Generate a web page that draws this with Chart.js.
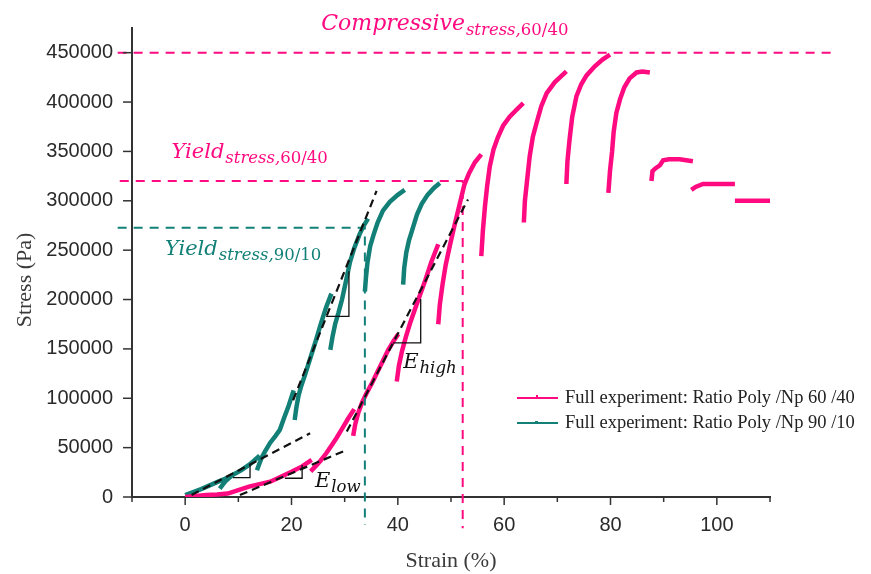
<!DOCTYPE html>
<html>
<head>
<meta charset="utf-8">
<script src="https://cdn.jsdelivr.net/npm/chart.js@4.4.0/dist/chart.umd.min.js"></script>
<style>
  body { margin: 0; background: #fff; }
  canvas { display: block; }
</style>
</head>
<body>
<canvas id="stressChart" width="871" height="574"></canvas>
<script>
// cyclic compression curves, [strain %, stress Pa], one array per loading cycle
const pink1 = [[0,0],[2,1000],[4,2000],[6,2500],[8,3500],[10,7000],[12,10500],[14,13000],[16,15500],[18,20500],[20,25500],[22,31000],[23.8,37500]];
const pink2 = [[23.6,26000],[24.5,31000],[25.5,37000],[26.5,44000],[27.5,52000],[28.5,60000],[29.5,69000],[30.6,79000],[31.8,89000]];
const pink3 = [[31.6,62000],[32,74000],[32.6,86000],[33.3,96000],[34.2,106000],[35.2,116000],[36.2,127000],[37.2,138000],[38.2,149000],[39.2,158000],[40.1,165000]];
const pink4 = [[39.8,117000],[40.2,133000],[40.8,148000],[41.5,162000],[42.3,176000],[43.2,190000],[44.2,205000],[45.2,220000],[46.3,238000],[47.6,256000]];
const pink5 = [[47.6,175000],[47.9,195000],[48.4,215000],[49,235000],[49.8,255000],[50.7,276000],[51.6,296000],[52.5,316000],[53.4,328000],[54.5,339000],[55.7,347000]];
const pink6 = [[55.7,244000],[56,270000],[56.4,295000],[56.8,315000],[57.3,335000],[58,352000],[58.8,364000],[59.8,376000],[61,385000],[62.3,392000],[63.6,399000]];
const pink7 = [[63.7,278000],[63.9,300000],[64.3,320000],[64.8,345000],[65.4,365000],[66.1,379000],[67,396000],[68,409000],[69.5,420000],[71.7,431000]];
const pink8 = [[71.7,317000],[71.9,340000],[72.3,362000],[72.8,385000],[73.6,406000],[74.5,418000],[75.5,427000],[77,436000],[78.5,443000],[79.9,448000]];
const pink9 = [[79.6,308000],[79.9,330000],[80.3,350000],[80.6,370000],[81.1,389000],[81.8,403000],[82.6,415000],[83.6,424000],[84.9,430000],[86,431000],[87.4,430000]];
const pink10 = [[87.7,320000],[87.9,330000],[88.5,333000],[89.3,336000],[89.9,341000],[91,342000],[93,342000],[95.5,340000]];
const pink11 = [[95.2,311000],[96,314000],[97.4,317000],[100,317000],[103.4,317000]];
const pink12 = [[103.4,300000],[110,300000]];

const teal1 = [[0,2000],[1.5,5000],[3,8000],[4.5,11500],[6,15000],[7.5,18500],[9,22500],[10.5,27000],[12,32500],[13,37000],[14,42000]];
const teal2 = [[6.5,8500],[7,12000],[7.6,16000],[8.3,19500],[9,22500]];
const teal3 = [[13.5,27000],[13.9,33000],[14.4,40000],[15,46000],[16,55000],[17,62000],[17.8,68000],[18.6,80000],[19.5,93000],[20.4,108000]];
const teal4 = [[20.6,78000],[20.9,90000],[21.3,102000],[21.8,112000],[22.5,123000],[23.5,140000],[24.5,157000],[25.5,175000],[26.5,192000],[27.5,206000]];
const teal5 = [[27.3,149000],[27.7,162000],[28.2,175000],[28.8,186000],[29.5,200000],[30.3,220000],[31,238000],[31.8,252000],[32.8,266000],[33.6,275000],[34.4,282000]];
const teal6 = [[33.8,208000],[34,222000],[34.3,238000],[34.8,254000],[35.4,265000],[36.2,278000],[37.2,290000],[38.5,299000],[40,306000],[41.3,311000]];
const teal7 = [[41,215000],[41.2,232000],[41.6,248000],[42.1,260000],[42.8,272000],[43.6,286000],[44.5,297000],[45.6,306000],[46.8,313000],[47.9,318000]];

// reference lines (dashed) and slope triangles
const compressiveLine = [[-12.7,450000],[122.5,450000]];
const yield6040Line = [[-12.3,320000],[52.2,320000],[52.2,-31700]];
const yield9010Line = [[-12.7,272700],[33.8,272700],[33.8,-28400]];
const tealLowFit = [[1.2,2000],[23.5,64600]];
const tealHighFit = [[20.3,98000],[36,310000]];
const pinkLowFit = [[10.3,2000],[30.4,47700]];
const pinkHighFit = [[30.4,66300],[53.2,301400]];
const tealLowTri = [[9.0,19600],[12.2,19600],[12.2,32500]];
const pinkLowTri = [[18.75,19000],[22.0,19000],[22.0,32500]];
const tealHighTri = [[26.5,183000],[30.8,183000],[30.8,228600]];
const pinkHighTri = [[39.1,156000],[44.3,156000],[44.3,200600]];

const xTicks = [0, 20, 40, 60, 80, 100];
const yTicks = [0, 50000, 100000, 150000, 200000, 250000, 300000, 350000, 400000, 450000];

const seriesLabels = ['Full experiment: Ratio Poly /Np 60 /40', 'Full experiment: Ratio Poly /Np 90 /10'];

const PINK = '#ff0a80';
const TEAL = '#138078';

function toPoints(list) {
    return list.map(p => ({ x: p[0], y: p[1] }));
}

// join cycles with a null point so the line breaks between them
function joinCycles(cycles) {
    let out = [];
    cycles.forEach((c, i) => {
        if (i > 0) out.push({ x: c[0][0], y: null });
        out = out.concat(toPoints(c));
    });
    return out;
}

function refLine(data, color, width, dash, order) {
    return {
        data: toPoints(data),
        borderColor: color,
        borderWidth: width,
        borderDash: dash,
        pointRadius: 0,
        showLine: true,
        clip: false,
        order: order
    };
}

// text labels placed in data coordinates
const labels = [
    { x: 25.6, y: 473000, main: 'Compressive', sub: 'stress,', num: '60/40', color: PINK, size: 22 },
    { x: -2.56, y: 343000, main: 'Yield', sub: 'stress,', num: '60/40', color: PINK, size: 21 },
    { x: -3.8, y: 245100, main: 'Yield', sub: 'stress,', num: '90/10', color: TEAL, size: 21 },
    { x: 41.0, y: 130300, main: 'E', sub: 'high', num: '', color: '#111', size: 21 },
    { x: 24.4, y: 10400, main: 'E', sub: 'low', num: '', color: '#111', size: 21 }
];

const decorPlugin = {
    id: 'decor',
    afterDraw(chart) {
        const ctx = chart.ctx;
        const xs = chart.scales.x, ys = chart.scales.y;
        const area = chart.chartArea;
        ctx.save();

        // tick marks, longer on labelled ticks
        ctx.strokeStyle = '#333';
        ctx.lineWidth = 1.5;
        xs.ticks.forEach(t => {
            const px = xs.getPixelForValue(t.value);
            const len = xTicks.includes(t.value) ? 8 : 5;
            ctx.beginPath();
            ctx.moveTo(px, area.bottom);
            ctx.lineTo(px, area.bottom + len);
            ctx.stroke();
        });
        ys.ticks.forEach(t => {
            const py = ys.getPixelForValue(t.value);
            const len = yTicks.includes(t.value) ? 9 : 6;
            ctx.beginPath();
            ctx.moveTo(area.left, py);
            ctx.lineTo(area.left - len, py);
            ctx.stroke();
        });

        // y axis title, sits a little below the axis middle in the original
        ctx.save();
        ctx.translate(25, 280);
        ctx.rotate(-Math.PI / 2);
        ctx.fillStyle = '#3a3a3a';
        ctx.font = '22px "Liberation Serif"';
        ctx.textAlign = 'center';
        ctx.textBaseline = 'middle';
        ctx.fillText('Stress (Pa)', 0, 0);
        ctx.restore();

        // math style labels
        ctx.textBaseline = 'alphabetic';
        ctx.textAlign = 'left';
        labels.forEach(l => {
            let px = xs.getPixelForValue(l.x);
            const py = ys.getPixelForValue(l.y);
            ctx.fillStyle = l.color;
            ctx.font = 'italic ' + l.size + 'px "DejaVu Serif"';
            ctx.fillText(l.main, px, py);
            px += ctx.measureText(l.main).width + 1;
            ctx.font = 'italic 16.5px "DejaVu Serif"';
            ctx.fillText(l.sub, px, py + 5);
            px += ctx.measureText(l.sub).width;
            if (l.num) {
                ctx.font = '16.5px "DejaVu Serif"';
                ctx.fillText(l.num, px, py + 5);
            }
        });

        // legend
        const rows = [{ color: PINK, y: 398 }, { color: TEAL, y: 423 }];
        rows.forEach((r, i) => {
            ctx.strokeStyle = r.color;
            ctx.lineWidth = 2;
            ctx.beginPath();
            ctx.moveTo(517, r.y);
            ctx.lineTo(558, r.y);
            ctx.stroke();
            ctx.fillStyle = r.color;
            if (i === 0) ctx.fillRect(536, r.y - 3, 2, 4);
            else ctx.fillRect(535, r.y - 2, 3, 3);
            ctx.fillStyle = '#222';
            ctx.font = '18.5px "Liberation Serif"';
            ctx.textBaseline = 'middle';
            ctx.fillText(seriesLabels[i], 565, r.y);
        });
        ctx.restore();
    }
};

const ctx = document.getElementById('stressChart').getContext('2d');
const chart = new Chart(ctx, {
    type: 'scatter',
    data: {
        datasets: [
            refLine(tealLowFit, '#111', 2.2, [8, 5], 0),
            refLine(tealHighFit, '#111', 2.2, [8, 5], 0),
            refLine(pinkLowFit, '#111', 2.2, [8, 5], 0),
            refLine(pinkHighFit, '#111', 2.2, [8, 5], 0),
            refLine(tealLowTri, '#111', 1.3, [], 0),
            refLine(pinkLowTri, '#111', 1.3, [], 0),
            refLine(tealHighTri, '#111', 1.3, [], 0),
            refLine(pinkHighTri, '#111', 1.3, [], 0),
            refLine(compressiveLine, PINK, 2, [9, 7], 1),
            refLine(yield6040Line, PINK, 2, [9, 7], 1),
            refLine(yield9010Line, TEAL, 2, [9, 7], 1),
            {
                label: seriesLabels[0],
                data: joinCycles([pink1, pink2, pink3, pink4, pink5, pink6, pink7, pink8, pink9, pink10, pink11, pink12]),
                borderColor: PINK,
                borderWidth: 4.5,
                pointRadius: 0,
                showLine: true,
                spanGaps: false,
                order: 2
            },
            {
                label: seriesLabels[1],
                data: joinCycles([teal1, teal2, teal3, teal4, teal5, teal6, teal7]),
                borderColor: TEAL,
                borderWidth: 4.5,
                pointRadius: 0,
                showLine: true,
                spanGaps: false,
                order: 2
            }
        ]
    },
    options: {
        responsive: false,
        animation: false,
        layout: { padding: { top: 28, right: 101, left: 0, bottom: 0 } },
        plugins: {
            legend: { display: false },
            tooltip: { enabled: false }
        },
        scales: {
            x: {
                type: 'linear',
                min: -10,
                max: 110,
                grid: { display: false },
                border: { display: true, color: '#333', width: 2 },
                ticks: {
                    stepSize: 10,
                    padding: 8,
                    color: '#2a2a2a',
                    font: { family: 'Liberation Sans', size: 20 },
                    callback: v => xTicks.includes(v) ? v : ''
                },
                title: {
                    display: true,
                    text: 'Strain (%)',
                    color: '#3a3a3a',
                    font: { family: 'Liberation Serif', size: 22 },
                    padding: { top: 0, bottom: 0 }
                },
                afterFit(scale) { scale.height = 77; }
            },
            y: {
                type: 'linear',
                min: 0,
                max: 475000,
                grid: { display: false },
                border: { display: true, color: '#333', width: 2 },
                ticks: {
                    stepSize: 25000,
                    padding: 11,
                    color: '#2a2a2a',
                    font: { family: 'Liberation Sans', size: 20 },
                    callback: v => yTicks.includes(v) ? v : ''
                },
                afterFit(scale) { scale.width = 132; }
            }
        }
    },
    plugins: [decorPlugin]
});
</script>
</body>
</html>
